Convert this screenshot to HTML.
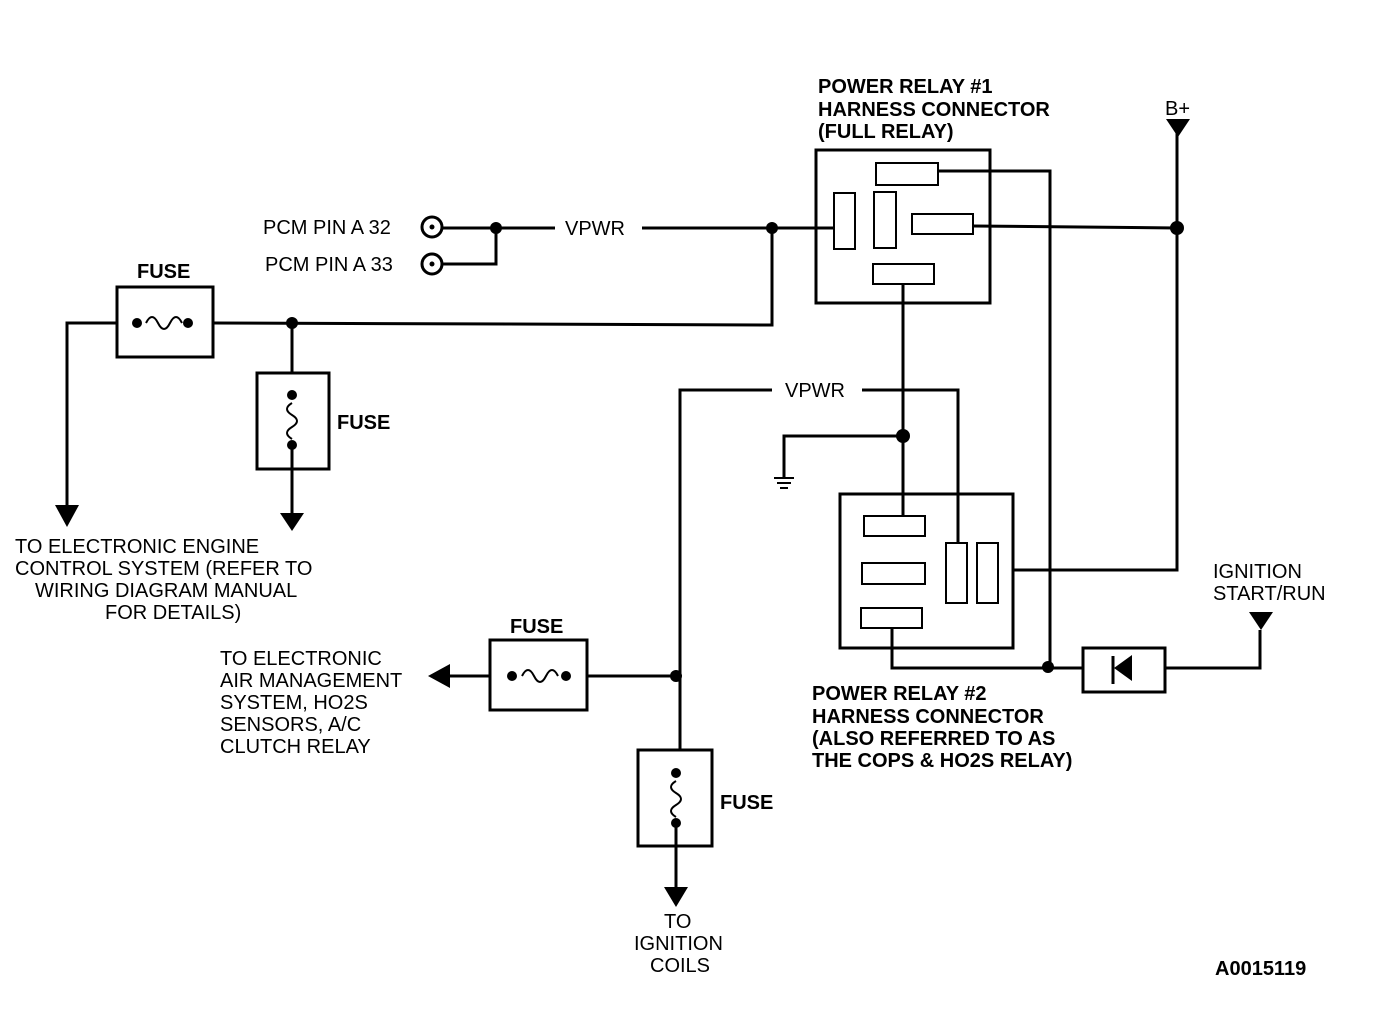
<!DOCTYPE html>
<html><head><style>body{margin:0;background:#fff}svg{display:block}text{font-family:"Liberation Sans",Arial,sans-serif;font-size:20px;fill:#000}.b{font-weight:bold}</style></head>
<body><svg width="1376" height="1010" viewBox="0 0 1376 1010" xmlns="http://www.w3.org/2000/svg">
<g fill="none" stroke="#000" stroke-width="3">
<rect x="816" y="150" width="174" height="153"/>
<rect x="876" y="163" width="62" height="22" stroke-width="2"/>
<rect x="834" y="193" width="21" height="56" stroke-width="2"/>
<rect x="874" y="192" width="22" height="56" stroke-width="2"/>
<rect x="912" y="214" width="61" height="20" stroke-width="2"/>
<rect x="873" y="264" width="61" height="20" stroke-width="2"/>
<polyline points="938,171 1050,171 1050,668"/>
<line x1="973" y1="226" x2="1177" y2="228"/>
<polyline points="1177,120 1177,570 1012,570"/>
<line x1="443" y1="228" x2="555" y2="228"/>
<line x1="642" y1="228" x2="834" y2="228"/>
<polyline points="443,264 496,264 496,228"/>
<polyline points="772,228 772,325 213,323"/>
<rect x="117" y="287" width="96" height="70"/>
<polyline points="117,323 67,323 67,505"/>
<line x1="292" y1="323" x2="292" y2="373"/>
<rect x="257" y="373" width="72" height="96"/>
<line x1="292" y1="445" x2="292" y2="515"/>
<line x1="903" y1="284" x2="903" y2="516"/>
<polyline points="903,436 784,436 784,478"/>
<line x1="774" y1="478" x2="794" y2="478" stroke-width="2"/>
<line x1="777" y1="483" x2="791" y2="483" stroke-width="2"/>
<line x1="780" y1="488" x2="788" y2="488" stroke-width="2"/>
<polyline points="862,390 958,390 958,543"/>
<polyline points="772,390 680,390 680,750"/>
<rect x="840" y="494" width="173" height="154"/>
<rect x="864" y="516" width="61" height="20" stroke-width="2"/>
<rect x="862" y="563" width="63" height="21" stroke-width="2"/>
<rect x="861" y="608" width="61" height="20" stroke-width="2"/>
<rect x="946" y="543" width="21" height="60" stroke-width="2"/>
<rect x="977" y="543" width="21" height="60" stroke-width="2"/>
<polyline points="892,628 892,668 1083,668"/>
<rect x="1083" y="648" width="82" height="44"/>
<line x1="1113" y1="656" x2="1113" y2="684"/>
<polyline points="1165,668 1260,668 1260,630"/>
<rect x="490" y="640" width="97" height="70"/>
<line x1="587" y1="676" x2="680" y2="676"/>
<line x1="490" y1="676" x2="446" y2="676"/>
<rect x="638" y="750" width="74" height="96"/>
<line x1="676" y1="823" x2="676" y2="895"/>
<circle cx="432" cy="227" r="10"/><circle cx="432" cy="264" r="10"/>
<path d="M146,323 q6,-12 12,0 t12,0 t12,0" stroke-width="2"/>
<path d="M522,676 q6,-12 12,0 t12,0 t12,0" stroke-width="2"/>
<path d="M292,403 q-10,6 0,12 t0,12 t0,12" stroke-width="2"/>
<path d="M676,781 q-10,6 0,12 t0,12 t0,12" stroke-width="2"/>
</g>
<g fill="#000">
<circle cx="432" cy="227" r="2.5"/><circle cx="432" cy="264" r="2.5"/>
<circle cx="496" cy="228" r="6"/><circle cx="772" cy="228" r="6"/><circle cx="1177" cy="228" r="7"/>
<circle cx="292" cy="323" r="6"/><circle cx="137" cy="323" r="5"/><circle cx="188" cy="323" r="5"/>
<circle cx="292" cy="395" r="5"/><circle cx="292" cy="445" r="5"/>
<circle cx="903" cy="436" r="7"/><circle cx="1048" cy="667" r="6"/>
<circle cx="676" cy="676" r="6"/><circle cx="512" cy="676" r="5"/><circle cx="566" cy="676" r="5"/>
<circle cx="676" cy="773" r="5"/><circle cx="676" cy="823" r="5"/>
<polygon points="55,505 79,505 67,527"/>
<polygon points="280,513 304,513 292,531"/>
<polygon points="664,887 688,887 676,907"/>
<polygon points="450,664 450,688 428,676"/>
<polygon points="1166,119 1190,119 1178,137"/>
<polygon points="1249,612 1273,612 1261,630"/>
<polygon points="1132,655 1132,681 1114,668"/>
</g>
<text x="818" y="93" class="b">POWER RELAY #1</text>
<text x="818" y="116" class="b">HARNESS CONNECTOR</text>
<text x="818" y="138" class="b">(FULL RELAY)</text>
<text x="1165" y="115">B+</text>
<text x="263" y="234">PCM PIN A 32</text>
<text x="265" y="271">PCM PIN A 33</text>
<text x="565" y="235">VPWR</text>
<text x="785" y="397">VPWR</text>
<text x="137" y="278" class="b">FUSE</text>
<text x="337" y="429" class="b">FUSE</text>
<text x="510" y="633" class="b">FUSE</text>
<text x="720" y="809" class="b">FUSE</text>
<text x="15" y="553">TO ELECTRONIC ENGINE</text>
<text x="15" y="575">CONTROL SYSTEM (REFER TO</text>
<text x="35" y="597">WIRING DIAGRAM MANUAL</text>
<text x="105" y="619">FOR DETAILS)</text>
<text x="220" y="665">TO ELECTRONIC</text>
<text x="220" y="687">AIR MANAGEMENT</text>
<text x="220" y="709">SYSTEM, HO2S</text>
<text x="220" y="731">SENSORS, A/C</text>
<text x="220" y="753">CLUTCH RELAY</text>
<text x="812" y="700" class="b">POWER RELAY #2</text>
<text x="812" y="723" class="b">HARNESS CONNECTOR</text>
<text x="812" y="745" class="b">(ALSO REFERRED TO AS</text>
<text x="812" y="767" class="b">THE COPS &amp; HO2S RELAY)</text>
<text x="1213" y="578">IGNITION</text>
<text x="1213" y="600">START/RUN</text>
<text x="664" y="928">TO</text>
<text x="634" y="950">IGNITION</text>
<text x="650" y="972">COILS</text>
<text x="1215" y="975" class="b">A0015119</text>
</svg></body></html>
